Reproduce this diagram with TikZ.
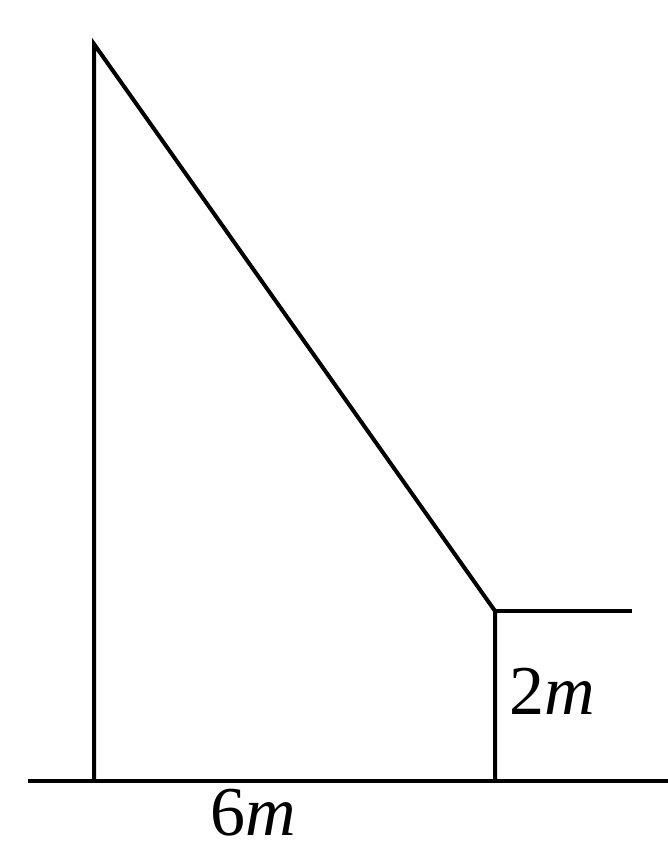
\documentclass[tikz,border=0pt]{standalone}
\usepackage{fontspec}
\setmainfont{Liberation Serif}
\begin{document}
\begin{tikzpicture}[x=1pt,y=-1pt,line width=4pt,
  lbl/.style={inner sep=0pt,font=\fontsize{70}{78}\selectfont}]
\useasboundingbox (0,0) rectangle (668,852);
\coordinate (A) at (94,44);
\coordinate (B) at (94,781);
\coordinate (C) at (495,611);
\coordinate (D) at (495,781);
\coordinate (E) at (632,611);
\coordinate (G1) at (28,781);
\coordinate (G2) at (668,781);
\draw (G1) -- (G2);
\draw (B) -- (A) -- (C) -- (D);
\draw (C) -- (E);
\node[lbl,anchor=base] (t2) at (552,714) {2\textit{m}};
\node[lbl,anchor=base] (t6) at (253,835) {6\textit{m}};
\end{tikzpicture}
\end{document}
